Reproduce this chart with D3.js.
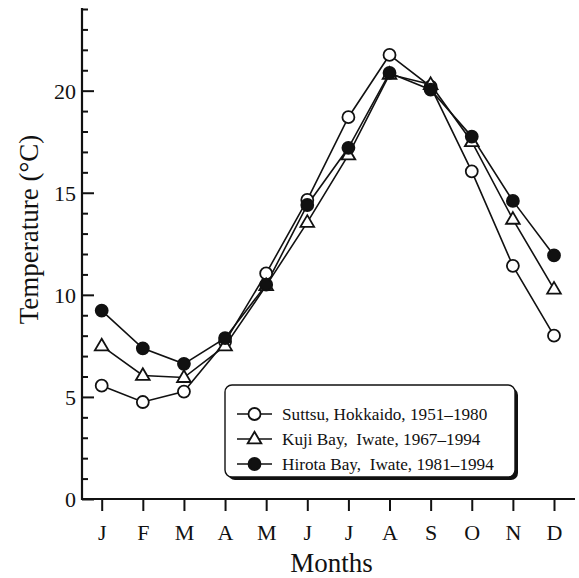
<!DOCTYPE html>
<html>
<head>
<meta charset="utf-8">
<script src="https://cdn.jsdelivr.net/npm/d3@7"></script>
<style>
  html, body { margin: 0; padding: 0; background: #fff; }
  svg { display: block; }
  text { font-family: "Liberation Serif", "Times New Roman", serif; fill: #111; }
</style>
</head>
<body>
<div id="chart"></div>
<script>
// Monthly mean water temperature at three coastal sites
const months = ["J", "F", "M", "A", "M ", "J ", "J  ", "A ", "S", "O", "N", "D"];
const monthLabels = ["J", "F", "M", "A", "M", "J", "J", "A", "S", "O", "N", "D"];

const suttsu = [5.55, 4.75, 5.26, 7.7, 11.05, 14.65, 18.7, 21.75, 20.2, 16.05, 11.42, 8.0];
const kuji   = [7.5, 6.05, 5.95, 7.5, 10.45, 13.55, 16.85, 20.8, 20.3, 17.5, 13.7, 10.28];
const hirota = [9.23, 7.38, 6.62, 7.88, 10.5, 14.4, 17.2, 20.87, 20.05, 17.75, 14.6, 11.93];

const seriesNames = [
  "Suttsu, Hokkaido, 1951\u20131980",
  "Kuji Bay,  Iwate, 1967\u20131994",
  "Hirota Bay,  Iwate, 1981\u20131994"
];
const seriesSymbols = ["circle", "triangle", "filled"];
const yTicks = d3.range(0, 25);

const W = 579, H = 578;
const plot = { left: 82, right: 575, top: 9, bottom: 499 };

const svg = d3.select("#chart").append("svg")
  .attr("width", W).attr("height", H);

const x = d3.scalePoint().domain(months).range([101.7, 554]);
const y = d3.scaleLinear().domain([0, 24]).range([plot.bottom, plot.top]);

// Y axis: minor ticks each degree, longer ticks every 5 degrees, all pointing inward
const yAxis = svg.append("g")
  .attr("transform", `translate(${plot.left},0)`)
  .call(d3.axisLeft(y).tickValues(yTicks).tickSizeInner(-6).tickSizeOuter(0)
    .tickPadding(6).tickFormat(d => d % 5 === 0 ? d : ""));
yAxis.select(".domain").remove();
yAxis.selectAll(".tick line").attr("stroke", "#111").attr("stroke-width", 2)
  .attr("x2", d => d % 5 === 0 ? 12 : 6);
yAxis.selectAll(".tick text").attr("font-size", 22).attr("font-family", "Liberation Serif")
  .attr("fill", "#111").attr("dy", "0.36em");
yAxis.append("line").attr("x1", 0).attr("x2", 0)
  .attr("y1", y(24) - 1).attr("y2", y(0) + 1)
  .attr("stroke", "#111").attr("stroke-width", 2.2);

// X axis: month ticks hanging below the baseline
const xAxis = svg.append("g")
  .attr("transform", `translate(0,${plot.bottom})`)
  .call(d3.axisBottom(x).tickSizeInner(12).tickSizeOuter(0).tickPadding(13)
    .tickFormat((d, i) => monthLabels[i]));
xAxis.select(".domain").remove();
xAxis.selectAll(".tick line").attr("stroke", "#111").attr("stroke-width", 2);
xAxis.selectAll(".tick text").attr("font-size", 22).attr("font-family", "Liberation Serif")
  .attr("fill", "#111");
xAxis.append("line").attr("x1", plot.left - 1).attr("x2", plot.right)
  .attr("y1", 0).attr("y2", 0)
  .attr("stroke", "#111").attr("stroke-width", 2.2);

// Axis titles
svg.append("text")
  .attr("x", x("A ") - 58).attr("y", 572)
  .attr("text-anchor", "middle").attr("font-size", 27)
  .text("Months");
svg.append("text")
  .attr("transform", `translate(38,${y(13.2)}) rotate(-90)`)
  .attr("text-anchor", "middle").attr("font-size", 27)
  .text("Temperature (\u00B0C)");

// Series lines and markers
const allSeries = [suttsu, kuji, hirota];
const line = d3.line().x((d, i) => x(months[i])).y(d => y(d));

function drawMarker(g, type, cx, cy) {
  if (type === "triangle") {
    const r = 7.2;
    g.append("path")
      .attr("d", `M${cx},${cy - r}L${cx + r * 0.95},${cy + r * 0.62}L${cx - r * 0.95},${cy + r * 0.62}Z`)
      .attr("fill", "#fff").attr("stroke", "#111").attr("stroke-width", 1.8);
  } else {
    g.append("circle").attr("cx", cx).attr("cy", cy).attr("r", 6)
      .attr("fill", type === "filled" ? "#111" : "#fff")
      .attr("stroke", "#111").attr("stroke-width", 1.8);
  }
}

allSeries.forEach((vals, s) => {
  svg.append("path").datum(vals)
    .attr("d", line).attr("fill", "none")
    .attr("stroke", "#111").attr("stroke-width", 1.6);
});
allSeries.forEach((vals, s) => {
  const g = svg.append("g");
  vals.forEach((v, i) => drawMarker(g, seriesSymbols[s], x(months[i]), y(v)));
});

// Legend box with a drop shadow
const lg = svg.append("g").attr("transform", "translate(225,385)");
const lw = 290, lh = 92;
lg.append("rect").attr("x", 3).attr("y", 3).attr("width", lw).attr("height", lh)
  .attr("rx", 7).attr("fill", "#111");
lg.append("rect").attr("x", 0).attr("y", 0).attr("width", lw).attr("height", lh)
  .attr("rx", 7).attr("fill", "#fff").attr("stroke", "#111").attr("stroke-width", 1.4);

seriesNames.forEach((name, i) => {
  const cy = 29 + i * 25;
  lg.append("line").attr("x1", 12).attr("x2", 47).attr("y1", cy).attr("y2", cy)
    .attr("stroke", "#111").attr("stroke-width", 1.6);
  drawMarker(lg, seriesSymbols[i], 29.5, cy);
  lg.append("text").attr("x", 57).attr("y", cy).attr("dy", "0.35em")
    .attr("font-size", 17.2).style("white-space", "pre")
    .text(name);
});
</script>
</body>
</html>
